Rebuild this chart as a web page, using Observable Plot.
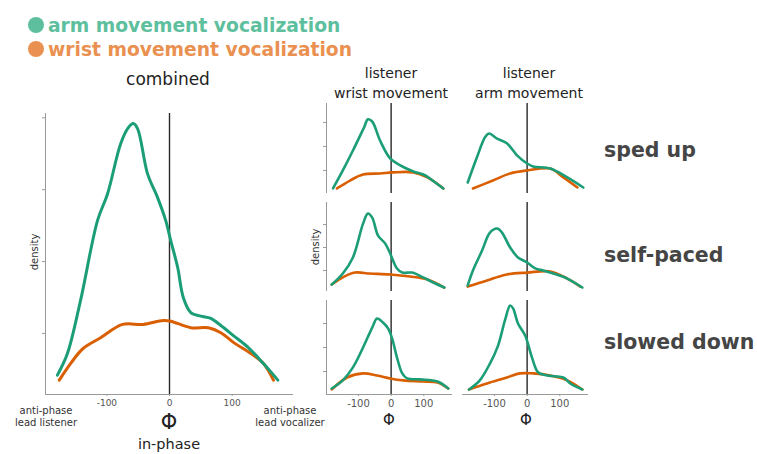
<!DOCTYPE html>
<html><head><meta charset="utf-8">
<script src="https://cdn.jsdelivr.net/npm/d3@7"></script>
<script src="https://cdn.jsdelivr.net/npm/@observablehq/plot@0.6"></script>
<style>
body{margin:0;background:#fff;}
#wrap{position:relative;width:757px;height:454px;overflow:hidden;font-family:"DejaVu Sans",Verdana,sans-serif;}
#wrap svg{position:absolute;}
</style></head><body><div id="wrap"></div>
<script>
// ---- data: [phi (deg), density (tick units)] ----
const legendLabels = ["arm movement vocalization", "wrist movement vocalization"];
const columnTitles = [["listener","wrist movement"],["listener","arm movement"]];
const rowLabels = ["sped up","self-paced","slowed down"];
const xTickValues = [-100, 0, 100];

const combinedArm = [[-179,0.42],[-163,0.72],[-142,1.46],[-115,2.57],[-99,2.94],[-78,3.64],[-66,3.86],[-58,3.92],[-51,3.85],[-35,3.22],[-19,2.89],[-6,2.57],[2,2.29],[13,1.92],[22,1.5],[34,1.29],[50,1.24],[66,1.21],[82,1.11],[102,0.97],[125,0.81],[150,0.58],[173,0.35]];
const combinedWrist = [[-176,0.35],[-158,0.58],[-138,0.79],[-110,0.94],[-75,1.125],[-42,1.125],[-10,1.18],[2,1.17],[34,1.08],[62,1.08],[82,1.01],[102,0.875],[130,0.72],[150,0.58],[166,0.35]];

const spedWristL_arm = [[-178,0.25],[-148,1.0],[-117,1.83],[-83,2.79],[-71,3.13],[-58,3.04],[-34,2.25],[-3,1.5],[28,1.21],[68,0.96],[105,0.79],[135,0.5],[160,0.25]];
const spedWristL_wrist = [[-166,0.25],[-126,0.58],[-86,0.83],[-34,0.875],[6,0.92],[68,0.92],[111,0.71],[160,0.25]];
const spedArmL_arm = [[-182,0.5],[-154,1.54],[-129,2.38],[-117,2.54],[-92,2.33],[-62,2.13],[-31,1.63],[0,1.29],[18,1.17],[71,1.08],[123,0.71],[172,0.29]];
const spedArmL_wrist = [[-166,0.25],[-105,0.58],[-52,0.875],[0,1.0],[71,1.08],[111,0.71],[154,0.29]];

const selfWristL_arm = [[-182,0.39],[-148,0.87],[-117,1.57],[-86,3.04],[-71,3.48],[-58,3.3],[-40,2.52],[-18,2.17],[-3,1.74],[18,1.09],[34,0.91],[65,0.91],[98,0.7],[129,0.48],[163,0.26]];
const selfWristL_wrist = [[-182,0.39],[-148,0.7],[-111,0.91],[-65,0.87],[-3,0.83],[58,0.74],[111,0.61],[163,0.26]];
const selfArmL_arm = [[-182,0.35],[-166,1.0],[-138,1.87],[-114,2.65],[-92,2.83],[-77,2.65],[-52,2.0],[-28,1.57],[0,1.35],[25,1.09],[49,1.0],[80,0.87],[123,0.65],[169,0.26]];
const selfArmL_wrist = [[-182,0.3],[-123,0.57],[-62,0.83],[0,0.91],[71,0.96],[123,0.65],[163,0.3]];

const slowWristL_arm = [[-182,0.29],[-148,0.63],[-117,1.17],[-86,2.0],[-58,2.83],[-43,3.21],[-25,3.04],[-9,2.79],[3,2.38],[18,1.58],[34,0.92],[49,0.71],[89,0.67],[142,0.58],[175,0.29]];
const slowWristL_wrist = [[-182,0.25],[-135,0.75],[-86,0.92],[-43,0.83],[-3,0.71],[37,0.63],[98,0.58],[142,0.54],[175,0.29]];
const slowArmL_arm = [[-178,0.25],[-145,0.63],[-114,1.33],[-89,2.08],[-68,3.13],[-52,3.75],[-43,3.63],[-28,3.0],[-6,2.5],[15,1.58],[34,0.96],[62,0.83],[111,0.75],[132,0.5],[169,0.25]];
const slowArmL_wrist = [[-178,0.25],[-123,0.5],[-62,0.75],[-22,0.92],[18,0.92],[71,0.83],[123,0.63],[169,0.25]];

const green = "#1b9e77", orange = "#d95f02";
const wrap = document.getElementById("wrap");

function panel(o){
  const mL = 6, mT = 3, mR = 4, mB = o.showX ? 16 : 3;
  const marks = [];
  if (o.showY) {
    marks.push(Plot.ruleX([o.xDomain[0]], {stroke:"#9a9a9a", strokeWidth:1}));
    marks.push(Plot.axisY({ticks:o.yTicks, tickSize:3, tickFormat:()=>"", stroke:"#9a9a9a", label:null}));
  }
  if (o.showX) {
    marks.push(Plot.ruleY([o.yDomain[0]], {stroke:"#9a9a9a", strokeWidth:1}));
    marks.push(Plot.axisX({ticks:xTickValues, tickSize:2, tickPadding:3, tickFormat:d=>String(d), fill:"#555", stroke:"#9a9a9a", fontSize:o.tickFont, label:null}));
  }
  marks.push(Plot.ruleX([0], {stroke:"#2a2a2a", strokeWidth:1.4}));
  marks.push(Plot.line(o.wrist, {x:d=>d[0], y:d=>d[1], stroke:orange, strokeWidth:o.lw, curve:"catmull-rom"}));
  marks.push(Plot.line(o.arm, {x:d=>d[0], y:d=>d[1], stroke:green, strokeWidth:o.lw, curve:"catmull-rom"}));
  const p = Plot.plot({
    width: o.w + mL + mR, height: o.h + mT + mB,
    marginLeft: mL, marginTop: mT, marginRight: mR, marginBottom: mB,
    x: {domain:o.xDomain, axis:null},
    y: {domain:o.yDomain, axis:null},
    style: {background:"transparent", fontFamily:"DejaVu Sans, Verdana, sans-serif", overflow:"visible"},
    marks
  });
  p.style.left = (o.left - mL) + "px";
  p.style.top = (o.top - mT) + "px";
  wrap.appendChild(p);
}

// combined panel
panel({left:45, top:113, w:248, h:281, xDomain:[-198,198], yDomain:[0.15,4.06], yTicks:[1,2,3,4],
  showY:true, showX:true, arm:combinedArm, wrist:combinedWrist, lw:3, tickFont:9});

// small panels
const smallX = [-198, 188];
const colLeft = [326, 462];
const rowsGeom = [
  {top:103, h:90, yDomain:[0.04,3.79]},
  {top:202, h:89, yDomain:[0.087,3.96]},
  {top:300, h:94, yDomain:[0.04,3.96]}
];
const smallData = [
  [[spedWristL_arm, spedWristL_wrist],[spedArmL_arm, spedArmL_wrist]],
  [[selfWristL_arm, selfWristL_wrist],[selfArmL_arm, selfArmL_wrist]],
  [[slowWristL_arm, slowWristL_wrist],[slowArmL_arm, slowArmL_wrist]]
];
rowsGeom.forEach((r,ri)=>{
  colLeft.forEach((cl,ci)=>{
    panel({left:cl, top:r.top, w:126, h:r.h, xDomain:smallX, yDomain:r.yDomain, yTicks:[1,2,3],
      showY: ci===0, showX: ri===2, arm:smallData[ri][ci][0], wrist:smallData[ri][ci][1], lw:2.6, tickFont:10});
  });
});

// text overlay
const svg = d3.select(wrap).append("svg").attr("width",757).attr("height",454)
  .style("left","0px").style("top","0px").attr("font-family","DejaVu Sans, Verdana, sans-serif");
function txt(x,y,s,size,opts={}){
  const t = svg.append("text").attr("x",x).attr("y",y).text(s).attr("font-size",size)
    .attr("fill",opts.fill||"#222").attr("text-anchor",opts.anchor||"middle");
  if(opts.bold) t.attr("font-weight","bold");
  if(opts.rotate) t.attr("transform",`rotate(-90,${x},${y})`);
  return t;
}
// legend
const legendColors = ["#5dbf9d","#ea9050"];
legendLabels.forEach((s,i)=>{
  svg.append("circle").attr("cx",36).attr("cy",25+i*24).attr("r",8).attr("fill",legendColors[i]);
  txt(48,32+i*24,s,18.7,{fill:legendColors[i],bold:true,anchor:"start"});
});
txt(168,85,"combined",17);
columnTitles.forEach((ct,i)=>{
  const cx = [391,529][i];
  txt(cx,78,ct[0],14);
  txt(cx,98,ct[1],14);
});
const rowY = [157,262,349];
rowLabels.forEach((s,i)=>txt(604,rowY[i],s,20.5,{fill:"#454545",bold:true,anchor:"start"}));
txt(38,252,"density",10,{rotate:true,fill:"#333"});
txt(319,247,"density",10,{rotate:true,fill:"#333"});
txt(46,414,"anti-phase",10,{fill:"#333"});
txt(46,426,"lead listener",10,{fill:"#333"});
txt(290,414,"anti-phase",10,{fill:"#333"});
txt(290,426,"lead vocalizer",10,{fill:"#333"});
txt(169,429,"Φ",21);
txt(169,449,"in-phase",14.5,{fill:"#222"});
txt(389,425,"Φ",15);
txt(526,425,"Φ",15);
</script></body></html>
